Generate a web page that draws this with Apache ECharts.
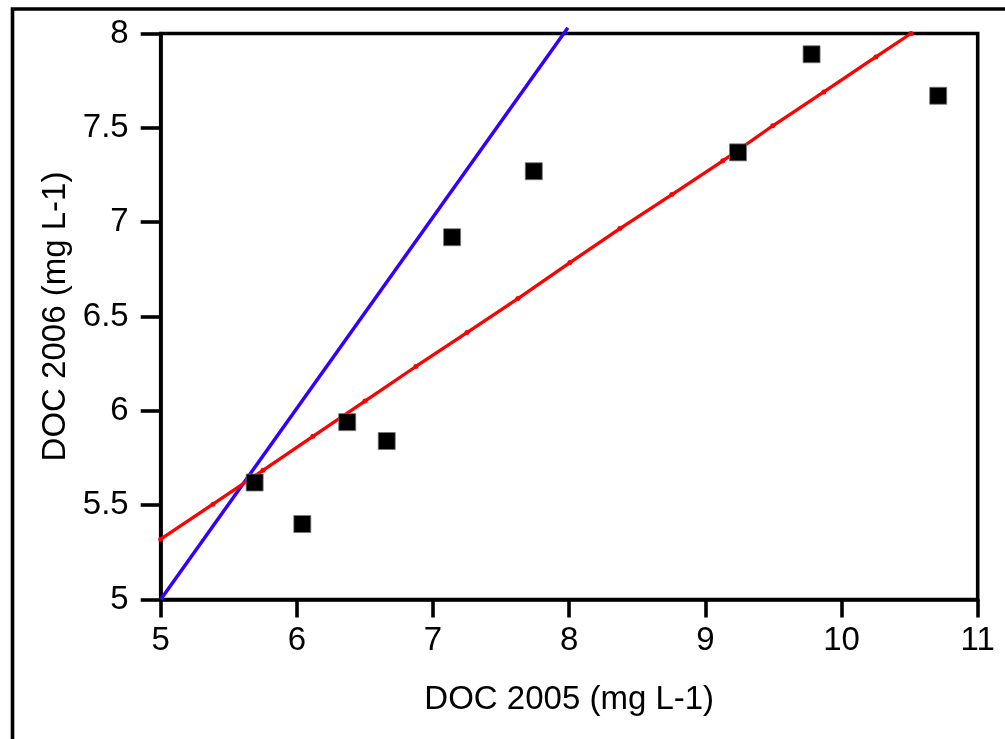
<!DOCTYPE html>
<html>
<head>
<meta charset="utf-8">
<script src="https://cdn.jsdelivr.net/npm/echarts@6/dist/echarts.min.js"></script>
<style>
html,body{margin:0;padding:0;background:#fff;}
#chart{width:1005px;height:739px;}
</style>
</head>
<body>
<div id="chart"></div>
<script>
// Observed points (DOC 2005, DOC 2006)
const doc2005 = [5.69, 6.04, 6.37, 6.66, 7.14, 7.74, 9.24, 9.78, 10.71];
const doc2006 = [5.62, 5.40, 5.94, 5.84, 6.92, 7.27, 7.37, 7.89, 7.67];

// 1:1 line endpoints
const oneToOneX = [5, 7.99];
const oneToOneY = [5, 8.03];

// Regression line (including its small joints)
const fitX = [5.0, 5.384, 5.751, 6.118, 6.500, 6.874, 7.249, 7.623, 8.005, 8.372, 8.754, 9.128, 9.495, 9.870, 10.252, 10.51];
const fitY = [5.32, 5.505, 5.685, 5.865, 6.052, 6.235, 6.415, 6.595, 6.786, 6.966, 7.146, 7.325, 7.511, 7.690, 7.876, 8.0];

const xTicks = {min: 5, max: 11, interval: 1};
const yTicks = {min: 5, max: 8, interval: 0.5};

const zip = (a, b) => a.map((v, i) => [v, b[i]]);
const FONT = '"Liberation Sans", Arial, sans-serif';

const chart = echarts.init(document.getElementById('chart'));
chart.setOption({
  animation: false,
  backgroundColor: '#fff',
  graphic: [{
    type: 'rect',
    shape: {x: 12.5, y: 9, width: 1200, height: 1000},
    style: {fill: 'none', stroke: '#000', lineWidth: 3.6},
    z: 100
  }],
  grid: {
    left: 160.7, right: 27.3, top: 33.5, bottom: 139.5,
    show: true, borderColor: '#000', borderWidth: 3.6, backgroundColor: 'transparent'
  },
  xAxis: {
    type: 'value',
    min: xTicks.min, max: xTicks.max, interval: xTicks.interval,
    name: 'DOC 2005 (mg L-1)',
    nameLocation: 'middle',
    nameGap: 84,
    nameTextStyle: {fontFamily: FONT, fontSize: 33, color: '#000'},
    axisLine: {show: true, lineStyle: {color: '#000', width: 3.6}},
    axisTick: {show: true, length: 18, lineStyle: {color: '#000', width: 3.6}},
    axisLabel: {fontFamily: FONT, fontSize: 33, color: '#000', margin: 25},
    splitLine: {show: false}
  },
  yAxis: {
    type: 'value',
    min: yTicks.min, max: yTicks.max, interval: yTicks.interval,
    name: 'DOC 2006 (mg L-1)',
    nameLocation: 'middle',
    nameGap: 85,
    nameTextStyle: {fontFamily: FONT, fontSize: 33, color: '#000'},
    axisLine: {show: true, lineStyle: {color: '#000', width: 3.6}},
    axisTick: {show: true, length: 20, lineStyle: {color: '#000', width: 3.6}},
    axisLabel: {fontFamily: FONT, fontSize: 33, color: '#000', margin: 32},
    splitLine: {show: false}
  },
  series: [
    {
      type: 'line',
      data: zip(oneToOneX, oneToOneY),
      showSymbol: false,
      clip: false,
      lineStyle: {color: '#3300ff', width: 3.5},
      z: 3
    },
    {
      type: 'line',
      data: zip(fitX, fitY),
      symbol: 'circle',
      symbolSize: 5,
      showSymbol: true,
      clip: false,
      itemStyle: {color: '#ff0000', opacity: 1},
      lineStyle: {color: '#ff0000', width: 3.3},
      z: 4
    },
    {
      type: 'scatter',
      data: zip(doc2005, doc2006),
      symbol: 'rect',
      symbolSize: 17,
      itemStyle: {color: '#000', opacity: 1, borderColor: '#777', borderWidth: 0.8},
      z: 5
    }
  ]
});
</script>
</body>
</html>
